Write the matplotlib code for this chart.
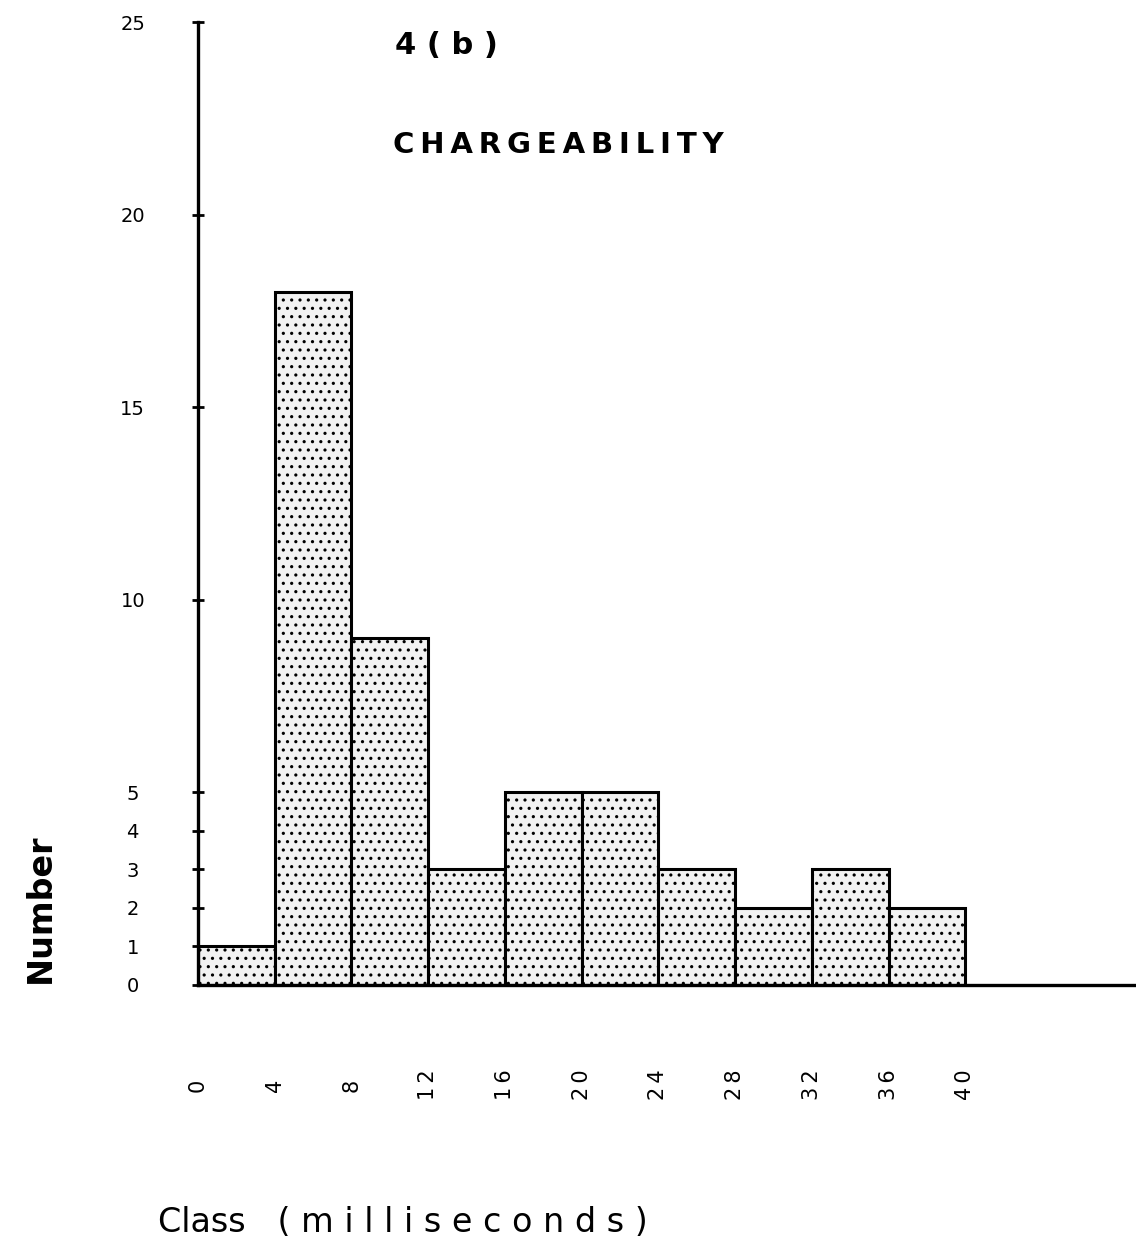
import matplotlib
matplotlib.use("Agg")
import matplotlib.pyplot as plt

plt.rcParams['font.family'] = ['DejaVu Sans']
plt.rcParams['hatch.linewidth'] = 1.1

bin_edges = [0, 4, 8, 12, 16, 20, 24, 28, 32, 36, 40]
counts = [1, 18, 9, 3, 5, 5, 3, 2, 3, 2]
y_ticks = [0, 1, 2, 3, 4, 5, 10, 15, 20, 25]
x_tick_labels = ['0', '4', '8', '12', '16', '20', '24', '28', '32', '36', '40']

TS = '\u2009'

def spaced(s, sep=TS):
    return sep.join(s)

fig = plt.figure(figsize=(11.36, 12.42), dpi=100)
ax = fig.add_axes([198/1136, (1242-985)/1242, (1136-198)/1136, 963/1242])

lefts = bin_edges[:-1]
widths = [b - a for a, b in zip(bin_edges[:-1], bin_edges[1:])]
ax.bar(lefts, counts, width=widths, align='edge', facecolor='#f2f2f2',
       edgecolor='black', linewidth=2.2, hatch='..', zorder=2)

ax.set_xlim(0, 48.9)
ax.set_ylim(0, 25)

for s in ['top', 'right']:
    ax.spines[s].set_visible(False)
ax.spines['left'].set_linewidth(2.4)
ax.spines['bottom'].set_linewidth(2.4)
ax.spines['left'].set_bounds(0, 25)

ax.set_yticks(y_ticks)
ax.set_yticklabels([str(v) for v in y_ticks], fontsize=14)
ax.tick_params(axis='y', direction='inout', length=8, width=2, pad=43)
for lbl in ax.get_yticklabels():
    lbl.set_horizontalalignment('center')

ax.set_xticks(bin_edges)
ax.set_xticklabels([spaced(t) for t in x_tick_labels], rotation=90, fontsize=15)
ax.tick_params(axis='x', length=0, pad=72)
for lbl in ax.get_xticklabels():
    lbl.set_verticalalignment('center')

fig.text(40/1136, 1 - 908/1242, 'Number', rotation=90, fontsize=24,
         fontweight='bold', ha='center', va='center')
fig.text(158/1136, 1 - 1222/1242,
         'Class   ' + spaced('(milliseconds)', ' '),
         fontsize=24, ha='left', va='center')
fig.text(446/1136, 1 - 45/1242, '4 ( b )', fontsize=22, fontweight='bold',
         ha='center', va='center')
fig.text(558/1136, 1 - 145/1242, spaced('CHARGEABILITY'), fontsize=21,
         fontweight='bold', ha='center', va='center')

fig.savefig('out.png', dpi=100)
